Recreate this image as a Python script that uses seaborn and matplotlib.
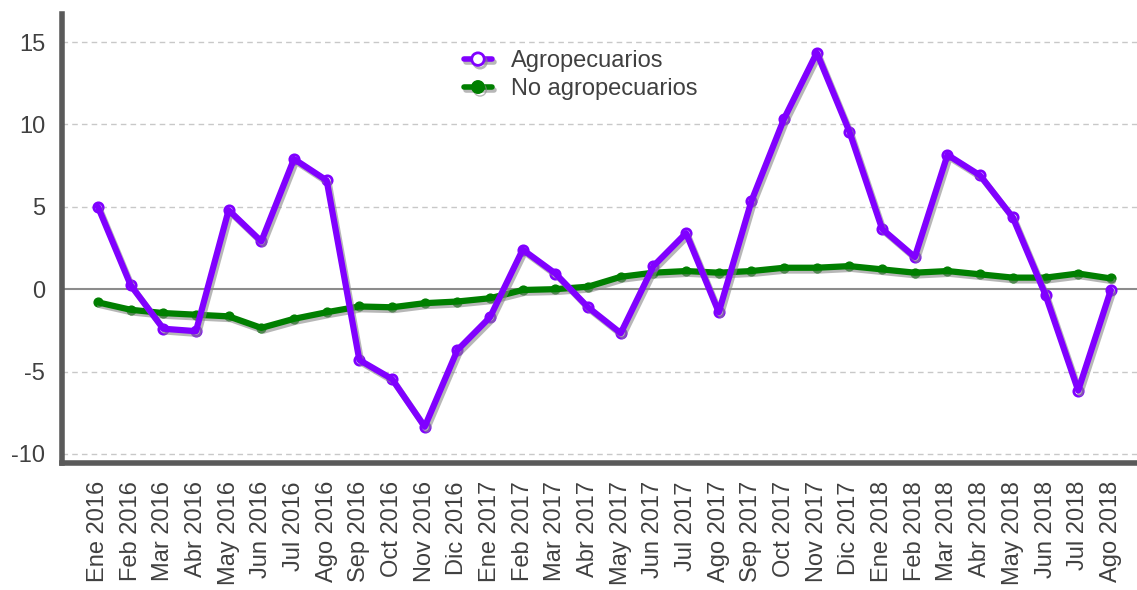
"""Variación mensual: agropecuarios vs no agropecuarios (Ene 2016 - Ago 2018)."""

import matplotlib
matplotlib.use("Agg")
import matplotlib.pyplot as plt
import matplotlib.patheffects as pe
from matplotlib.lines import Line2D
import numpy as np
import pandas as pd
import seaborn as sns

MONTHS = ["Ene", "Feb", "Mar", "Abr", "May", "Jun",
          "Jul", "Ago", "Sep", "Oct", "Nov", "Dic"]
labels = ([f"{m} 2016" for m in MONTHS] + [f"{m} 2017" for m in MONTHS]
          + [f"{m} 2018" for m in MONTHS[:8]])

agro = [5.0, 0.25, -2.4, -2.55, 4.8, 2.9, 7.9, 6.6, -4.3, -5.45, -8.35, -3.7,
        -1.7, 2.4, 0.95, -1.1, -2.67, 1.4, 3.4, -1.4, 5.35, 10.35, 14.35, 9.55,
        3.65, 1.95, 8.15, 6.9, 4.35, -0.35, -6.15, -0.05]
no_agro = [-0.8, -1.25, -1.45, -1.55, -1.65, -2.35, -1.8, -1.4, -1.05, -1.1, -0.85, -0.75,
           -0.55, -0.05, 0.0, 0.15, 0.75, 1.0, 1.1, 1.0, 1.1, 1.3, 1.3, 1.4,
           1.2, 1.0, 1.1, 0.9, 0.7, 0.7, 0.95, 0.65]

PURPLE = "#8000ff"
GREEN = "#007f00"
TEXT = "#404040"
FS = 17

sns.set_theme(style="white")
plt.rcParams["font.family"] = ["Liberation Sans", "DejaVu Sans"]

df = pd.DataFrame({"idx": np.arange(len(labels)), "agro": agro, "no_agro": no_agro})

fig = plt.figure(figsize=(11.37, 5.9), dpi=100)
ax = fig.add_axes([62 / 1137, 1 - 463 / 590, 1075 / 1137, 449 / 590])

shadow = [pe.SimpleLineShadow(offset=(1.5, -2), shadow_color="#888888", alpha=0.6), pe.Normal()]

# grid + zero line
for y in [-10, -5, 5, 10, 15]:
    ax.axhline(y, color="#c8c8c8", lw=1, ls=(0, (4, 3)), zorder=0)
ax.axhline(0, color="#8c8c8c", lw=1.5, zorder=1)

# markers sit under the lines, so only the end points show as hollow rings
sns.scatterplot(data=df, x="idx", y="no_agro", ax=ax, color=GREEN, s=40,
                edgecolor=GREEN, linewidth=1, zorder=2)
sns.lineplot(data=df, x="idx", y="no_agro", ax=ax, color=GREEN, lw=4.5,
             path_effects=shadow, zorder=3)
sns.scatterplot(data=df, x="idx", y="agro", ax=ax, s=45, facecolor="white",
                edgecolor=PURPLE, linewidth=2, zorder=3.5)
sns.lineplot(data=df, x="idx", y="agro", ax=ax, color=PURPLE, lw=4.5,
             path_effects=shadow, zorder=4)

ax.set_xlim(-1.1, 31.8)
ax.set_ylim(-10.55, 16.7)
ax.set_xticks(df["idx"])
ax.set_xticklabels(labels, rotation=90, fontsize=FS, color=TEXT)
ax.set_yticks([-10, -5, 0, 5, 10, 15])
ax.set_yticklabels(["-10", "-5", "0", "5", "10", "15"], fontsize=FS, color=TEXT)
ax.set_xlabel("")
ax.set_ylabel("")
ax.tick_params(axis="x", length=0, pad=13)
ax.tick_params(axis="y", length=4, width=1.5, color="#888888", pad=8)

for side in ["top", "right"]:
    ax.spines[side].set_visible(False)
for side in ["left", "bottom"]:
    ax.spines[side].set_color("#5a5a5a")
    ax.spines[side].set_linewidth(4)

handles = [
    Line2D([], [], color=PURPLE, lw=4, marker="o", markersize=9, markerfacecolor="white",
           markeredgecolor=PURPLE, markeredgewidth=2, path_effects=shadow),
    Line2D([], [], color=GREEN, lw=4, marker="o", markersize=9, markeredgecolor=GREEN,
           path_effects=shadow),
]
leg = ax.legend(handles, ["Agropecuarios", "No agropecuarios"], loc="upper left",
                bbox_to_anchor=(0.365, 0.94), frameon=False, fontsize=FS,
                handlelength=1.2, handletextpad=0.8, labelspacing=0.25, borderaxespad=0)
for t in leg.get_texts():
    t.set_color(TEXT)

fig.savefig("out.png", dpi=100)
plt.close(fig)
